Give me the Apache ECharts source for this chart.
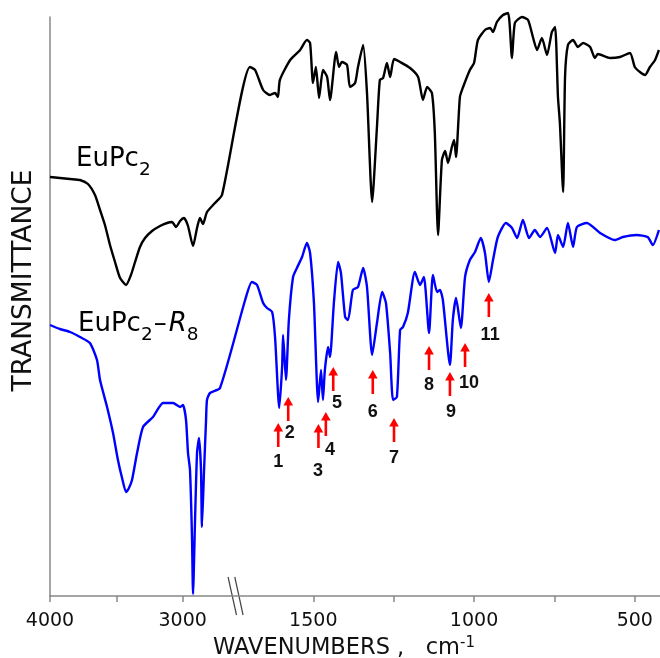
<!DOCTYPE html>
<html>
<head>
<meta charset="utf-8">
<script src="https://cdn.jsdelivr.net/npm/echarts@6/dist/echarts.min.js"></script>
<style>
  html, body { margin: 0; padding: 0; background: #fff; }
  #chart { width: 660px; height: 658px; }
</style>
</head>
<body>
<div id="chart"></div>
<script>
// EuPc2 (black)
const blackWn = [4000, 3925, 3849, 3774, 3714, 3661, 3623, 3586, 3548, 3510, 3472, 3427, 3390, 3359, 3322, 3284, 3231, 3171, 3118, 3081,
  3050, 3020, 2990, 2960, 2922, 2892, 2870, 2847, 2817, 2757, 2704,
  1697, 1681, 1656, 1635, 1619, 1610, 1604, 1572, 1541, 1520, 1510, 1501, 1492, 1482, 1470, 1457, 1448, 1429, 1420, 1411,
  1395, 1386, 1370, 1361, 1345, 1333, 1317, 1302, 1293, 1283, 1271, 1261, 1249, 1230, 1199, 1174, 1159, 1146, 1131, 1122,
  1112, 1100, 1090, 1081, 1069, 1062, 1056, 1044, 1034, 1013, 1000, 988, 966, 950, 941, 929, 910, 894, 882, 873,
  851, 832, 817, 804, 789, 773, 758, 748, 739, 733, 723, 717, 708, 692, 677, 661, 639, 624, 615, 577,
  546, 515, 500, 484, 468, 453, 437, 425];
const blackT = [419, 418, 417, 416, 412, 401, 386, 371, 351, 334, 318, 311, 321, 334, 349, 358, 365, 370, 373, 374,
  369, 375, 378, 370, 350, 368, 378, 372, 384, 393, 401,
  529, 526, 506, 501, 503, 499, 516, 536, 546, 556, 553, 513, 529, 498, 526, 519, 496, 544, 529, 534,
  531, 509, 513, 529, 551, 503, 394, 469, 516, 518, 533, 519, 537, 534, 528, 519, 496, 509, 503, 463,
  361, 436, 445, 433, 449, 456, 439, 499, 509, 526, 533, 556, 566, 568, 564, 574, 581, 583, 538, 573,
  579, 576, 559, 546, 558, 541, 564, 569, 499, 473, 404, 519, 551, 556, 549, 553, 549, 538, 542, 538,
  539, 543, 529, 524, 521, 529, 536, 546];

// EuPc2-R8 (blue)
const blueWn = [4000, 3925, 3849, 3774, 3699, 3646, 3623, 3570, 3525, 3488, 3457, 3427, 3405, 3382, 3344, 3299, 3224, 3148, 3073, 3020,
  2998, 2975, 2960, 2945, 2930, 2922, 2907, 2892, 2877, 2862, 2855, 2839, 2824, 2817, 2794, 2719,
  1712, 1691, 1675, 1656, 1644, 1628, 1619, 1606, 1597, 1594, 1585, 1576, 1563, 1551, 1535, 1520, 1510, 1498, 1485, 1476,
  1470, 1464, 1454, 1448, 1436, 1423, 1414, 1401, 1392, 1377, 1361, 1345, 1333, 1317, 1302, 1286, 1274, 1261, 1252, 1240,
  1230, 1221, 1206, 1184, 1168, 1156, 1140, 1128, 1115, 1106, 1097, 1075, 1066, 1056, 1041, 1028, 1013, 997, 979, 966,
  954, 941, 926, 901, 882, 866, 848, 829, 811, 795, 773, 748, 739, 723, 708, 692, 680, 649, 608, 562,
  537, 494, 460, 444, 425];
const blueT = [271, 267, 264, 259, 253, 236, 216, 189, 163, 136, 118, 104, 108, 116, 143, 169, 179, 193, 193, 189,
  191, 176, 143, 126, 59, 2, 76, 143, 158, 126, 69, 126, 176, 196, 203, 208,
  296, 314, 311, 293, 288, 284, 259, 188, 229, 261, 216, 276, 319, 328, 339, 353, 343, 293, 194, 226,
  196, 226, 249, 239, 293, 334, 323, 279, 276, 306, 309, 328, 309, 241, 273, 304, 293, 243, 196, 199,
  266, 269, 283, 324, 311, 319, 263, 321, 304, 306, 296, 231, 276, 298, 268, 319, 336, 344, 358, 343,
  314, 336, 359, 373, 368, 358, 376, 358, 366, 359, 368, 343, 361, 349, 373, 349, 369, 373, 363, 356,
  359, 361, 359, 351, 366];

// numbered peaks (red arrows)
const peakNames = ['1', '2', '3', '4', '5', '6', '7', '8', '9', '10', '11'];
const peakWn = [1609, 1578, 1484, 1461, 1438, 1315, 1249, 1140, 1075, 1028, 954];
const peakTipT = [173, 199, 172, 184, 229, 226, 178, 250, 224, 253, 303];
const peakLabelWn = [1609, 1573, 1485, 1448, 1426, 1315, 1249, 1140, 1072, 1016, 950];
const peakLabelT = [134, 163, 125, 146, 193, 184, 138, 211, 184, 213, 261];

const tickWn = [4000, 3500, 3000, 1500, 1250, 1000, 750, 500];
const labelWn = [4000, 3000, 1500, 1000, 500];
const breakWn = 2600;

// broken axis: 4000-2500 compressed, 1700-400 expanded
function toU(wn) {
  return wn >= 2100 ? (4000 - wn) * 0.1327 : 263.3 + (1500 - wn) * 0.3215;
}
function fromU(u) {
  return u <= 199 ? 4000 - u / 0.1327 : 1500 - (u - 263.3) / 0.3215;
}

const chart = echarts.init(document.getElementById('chart'));
const font = 'DejaVu Sans';

const option = {
  animation: false,
  grid: { left: 50, right: 0, top: 17, bottom: 62, outerBoundsMode: 'none', containLabel: false },
  xAxis: {
    type: 'value',
    min: 0,
    max: 610,
    name: '{m|WAVENUMBERS ,   cm}{sup|-1}',
    nameLocation: 'middle',
    nameGap: 35,
    nameTextStyle: {
      padding: [0, 22, 0, 0],
      rich: {
        m: { fontFamily: font, fontSize: 22.5, color: '#111', lineHeight: 24, verticalAlign: 'bottom' },
        sup: { fontFamily: font, fontSize: 15, color: '#111', lineHeight: 14, verticalAlign: 'top' }
      }
    },
    axisLine: { lineStyle: { color: '#888', width: 1.5 } },
    axisTick: {
      show: true,
      inside: false,
      length: 6,
      customValues: tickWn.map(toU),
      lineStyle: { color: '#888', width: 1.5 }
    },
    axisLabel: {
      customValues: labelWn.map(toU),
      formatter: (v) => String(Math.round(fromU(v) / 50) * 50),
      fontFamily: font,
      fontSize: 19,
      color: '#111',
      margin: 16
    },
    splitLine: { show: false }
  },
  yAxis: {
    type: 'value',
    min: 0,
    max: 579,
    name: 'TRANSMITTANCE',
    nameLocation: 'middle',
    nameGap: 12,
    nameRotate: 90,
    nameTextStyle: { fontFamily: font, fontSize: 26.5, color: '#111', padding: [0, 0, 0, 52] },
    axisLine: { show: true, lineStyle: { color: '#888', width: 1.5 } },
    axisTick: { show: false },
    axisLabel: { show: false },
    splitLine: { show: false }
  },
  series: [
    {
      name: 'EuPc2',
      type: 'line',
      data: blackWn.map((w, i) => [toU(w), blackT[i]]),
      showSymbol: false,
      smooth: 0.2,
      clip: false,
      lineStyle: { color: '#000', width: 2.4 }
    },
    {
      name: 'EuPc2-R8',
      type: 'line',
      data: blueWn.map((w, i) => [toU(w), blueT[i]]),
      showSymbol: false,
      smooth: 0.2,
      clip: false,
      lineStyle: { color: '#0000ff', width: 2.4 }
    },
    {
      type: 'custom',
      clip: false,
      data: peakWn.map((w, i) => [toU(w), peakTipT[i], toU(peakLabelWn[i]), peakLabelT[i]]),
      encode: { x: [0, 2], y: [1, 3] },
      renderItem: function (params, api) {
        const tip = api.coord([api.value(0), api.value(1)]);
        const lab = api.coord([api.value(2), api.value(3)]);
        const len = 24, head = 8.5, hw = 4.8;
        return {
          type: 'group',
          children: [
            {
              type: 'line',
              shape: { x1: tip[0], y1: tip[1] + head - 1, x2: tip[0], y2: tip[1] + len },
              style: { stroke: '#ff0000', lineWidth: 2.6 }
            },
            {
              type: 'polygon',
              shape: { points: [[tip[0], tip[1]], [tip[0] - hw, tip[1] + head], [tip[0] + hw, tip[1] + head]] },
              style: { fill: '#ff0000' }
            },
            {
              type: 'text',
              x: lab[0],
              y: lab[1],
              style: {
                text: peakNames[params.dataIndex],
                font: 'bold 18px "Liberation Sans"',
                fill: '#111',
                align: 'center',
                verticalAlign: 'middle'
              }
            }
          ]
        };
      }
    }
  ]
};

chart.setOption(option);

// series names and the // break on the axis
const labelRich = {
  m: { fontFamily: font, fontSize: 26, color: '#111', lineHeight: 34, verticalAlign: 'top' },
  d: { fontFamily: font, fontSize: 26, color: '#111', lineHeight: 34, verticalAlign: 'top', padding: [0, 2, 0, 1] },
  i: { fontFamily: font, fontSize: 26, fontStyle: 'italic', color: '#111', lineHeight: 34, verticalAlign: 'top' },
  s: { fontFamily: font, fontSize: 18.5, color: '#111', lineHeight: 11, verticalAlign: 'bottom' }
};
const bp = chart.convertToPixel({ gridIndex: 0 }, [toU(breakWn), 0]);
chart.setOption({
  graphic: [
    { type: 'text', left: 76, top: 146, style: { text: '{m|EuPc}{s|2}', rich: labelRich } },
    { type: 'text', left: 78, top: 311, style: { text: '{m|EuPc}{s|2}{d|–}{i|R}{s|8}', rich: labelRich } },
    {
      type: 'line',
      shape: { x1: bp[0] - 7.7, y1: bp[1] - 19, x2: bp[0] + 0.7, y2: bp[1] + 19 },
      style: { stroke: '#444', lineWidth: 1.2 }
    },
    {
      type: 'line',
      shape: { x1: bp[0] - 1, y1: bp[1] - 19, x2: bp[0] + 7.3, y2: bp[1] + 19 },
      style: { stroke: '#444', lineWidth: 1.2 }
    }
  ]
});
</script>
</body>
</html>
